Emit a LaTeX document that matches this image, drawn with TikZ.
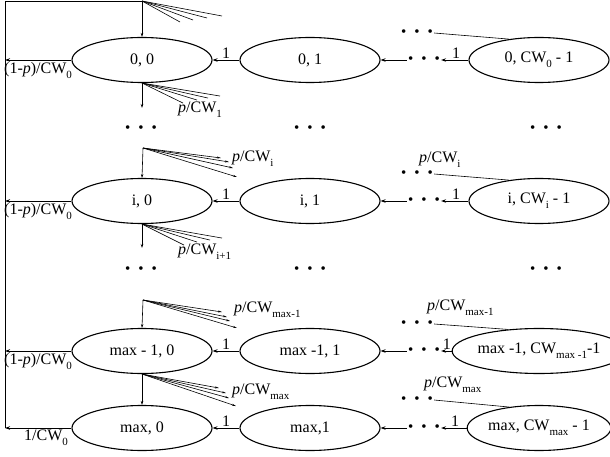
\documentclass[tikz,border=0pt]{standalone}
\usepackage{fontspec}
\setmainfont{Liberation Serif}
\usetikzlibrary{shapes.geometric,arrows.meta}
\newcommand\lo[1]{\raisebox{-0.3em}{\fontsize{11}{11}\selectfont #1}}
\newcommand\dts{\textbullet\hspace{8pt}\textbullet\hspace{8pt}\textbullet}
\begin{document}
\begin{tikzpicture}[x=1pt,y=-1pt,
  font=\fontsize{16}{18}\selectfont,
  st/.style={draw, ellipse, minimum width=140pt, minimum height=45pt, inner sep=0pt, line width=1.1pt},
  dt/.style={inner sep=1pt, font=\fontsize{15}{17}\selectfont},
  arr/.style={-{Stealth[length=5pt,width=3.5pt]}, line width=0.9pt},
  varr/.style={-{Stealth[length=4pt,width=2.5pt]}, line width=0.6pt},
  fan/.style={line width=0.6pt},
  fantip/.style={line width=0.6pt, -{Stealth[length=4pt,width=2pt]}},
  lbl/.style={inner sep=1pt},
  one/.style={above, inner sep=1pt}
]
\useasboundingbox (0,0) rectangle (610,457);
% ellipses
\node[st] (a0)  at (142,60)  {0, 0};
\node[st] (b0)  at (310,60)  {0, 1};
\node[st] (c0)  at (539,60)  {0, CW\lo{0} - 1};
\node[st] (ai)  at (142,201) {i, 0};
\node[st] (bi)  at (310,201) {i, 1};
\node[st] (ci)  at (539,201) {i, CW\lo{i} - 1};
\node[st] (am1) at (142,351) {max - 1, 0};
\node[st] (bm1) at (310,351) {max -1, 1};
\node[st] (cm1) at (539,351) {max -1, CW\lo{max -1}-1};
\node[st] (am)  at (142,428) {max, 0};
\node[st] (bm)  at (310,428) {max,1};
\node[st] (cm)  at (539,428) {max, CW\lo{max} - 1};
% horizontal dots
\node[dt] (h0)  at (424,60)  {\dts};
\node[dt] (hi)  at (424,201) {\dts};
\node[dt] (hm1) at (424,351) {\dts};
\node[dt] (hm)  at (424,428) {\dts};
% top dots
\node[dt] (t0)  at (417,33)  {\dts};
\node[dt] (ti)  at (417,174) {\dts};
\node[dt] (tm1) at (417,324) {\dts};
\node[dt] (tm)  at (417,400) {\dts};
% vertical dots
\node[dt] (v01) at (141,129) {\dts};
\node[dt] (v02) at (310,129) {\dts};
\node[dt] (v03) at (546,129) {\dts};
\node[dt] (v11) at (141,270) {\dts};
\node[dt] (v12) at (310,270) {\dts};
\node[dt] (v13) at (546,270) {\dts};
% chains
\foreach \r in {0,i,m1,m}{
  \draw[arr] (b\r.west) -- node[one] {1} (a\r.east);
  \draw[arr] (h\r.west) -- (b\r.east);
  \draw[arr] (c\r.west) -- node[one, pos=0.45] {1} (h\r.east);
  \draw[line width=0.6pt] (t\r.east) -- (c\r.145);
}
% left return line
\coordinate (L0) at (5,1);
\coordinate (T0) at (142,1);
\draw[line width=0.9pt] (am.west -| L0) -- (L0) -- (T0);
\draw[varr] (T0) -- (a0.north);
\draw[arr] (a0.west) -- (a0.west -| L0);
\draw[arr] (ai.west) -- (ai.west -| L0);
\draw[arr] (am1.west) -- (am1.west -| L0);
\draw[arr] (am.west) -- (am.west -| L0);
\node[lbl, anchor=north west] (q0) at (3,61) {(1-\textit{p})/CW\lo{0}};
\node[lbl, anchor=north west] (qi) at (3,202) {(1-\textit{p})/CW\lo{0}};
\node[lbl, anchor=north west] (qm1) at (3,352) {(1-\textit{p})/CW\lo{0}};
\node[lbl, anchor=north] (qm) at (46,429) {1/CW\lo{0}};
% vertical arrows
\coordinate (D0) at (142,108);
\coordinate (Di) at (142,248);
\coordinate (Fi) at (143,148);
\coordinate (Fm1) at (143,300);
\draw[varr] (a0.south) -- (D0);
\draw[varr] (ai.south) -- (Di);
\draw[varr] (Fi) -- (ai.north);
\draw[varr] (Fm1) -- (am1.north);
\draw[varr] (am1.south) -- (am.north);
% fans
\foreach \dx/\dy in {80/15,65/17,51/19,38/21}{\draw[fan] (T0) -- ++(\dx,\dy);}
\foreach \dx/\dy in {78/13,66/15,55/17,41/20}{\draw[fan] (a0.south) -- ++(\dx,\dy);}
\foreach \dx/\dy in {78/10,86/14,90/20,94/29}{\draw[fantip] (Fi) -- ++(\dx,\dy);}
\foreach \dx/\dy in {80/14,68/16,55/18,42/21}{\draw[fan] (ai.south) -- ++(\dx,\dy);}
\foreach \dx/\dy in {79/12,84/17,87/21,94/28}{\draw[fantip] (Fm1) -- ++(\dx,\dy);}
\foreach \dx/\dy in {77/14,84/19,87/24,94/32}{\draw[fantip] (am1.south) -- ++(\dx,\dy);}
% fan labels
\node[lbl, anchor=west] (p1) at (177,110) {\textit{p}/CW\lo{1}};
\node[lbl, anchor=west] (pi) at (231,159) {\textit{p}/CW\lo{i}};
\node[lbl, anchor=west] (pi1) at (177,252) {\textit{p}/CW\lo{i+1}};
\node[lbl, anchor=west] (pm1) at (233,310) {\textit{p}/CW\lo{max-1}};
\node[lbl, anchor=west] (pm) at (231,392) {\textit{p}/CW\lo{max}};
\node[lbl, anchor=west] (ri) at (418,160) {\textit{p}/CW\lo{i}};
\node[lbl, anchor=west] (rm1) at (426,308) {\textit{p}/CW\lo{max-1}};
\node[lbl, anchor=west] (rm) at (423,385) {\textit{p}/CW\lo{max}};
\end{tikzpicture}
\end{document}
